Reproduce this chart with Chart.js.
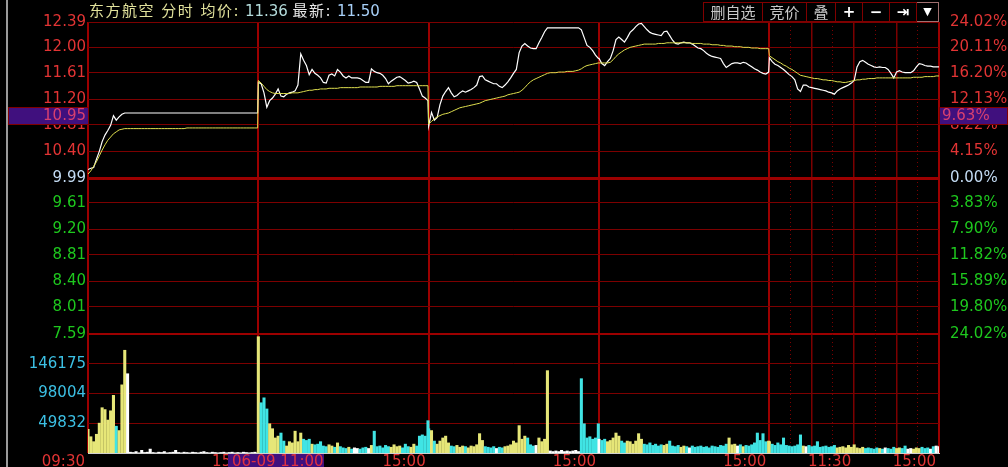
<!DOCTYPE html>
<html lang="zh">
<head>
<meta charset="UTF-8">
<title>东方航空 分时</title>
<script src="https://cdn.jsdelivr.net/npm/chart.js"></script>
<style>
  * { box-sizing: border-box; }
  body { margin: 0; background: #000; }
  #wrap { position: relative; width: 1008px; height: 467px; overflow: hidden; background: #000; font-family: 'DejaVu Sans', 'Noto Sans CJK SC', sans-serif; }
  canvas { position: absolute; left: 0; }
  #priceChart { top: 0; }
  #volChart { top: 334px; }
  .frame { position: absolute; left: 6px; top: 0; width: 2px; height: 467px; background: #9a9a9a; }
  #title { position: absolute; left: 89px; top: 1px; font-size: 15px; line-height: 20px; white-space: nowrap; }
  #title .cn { letter-spacing: 1.5px; }
  #tools { position: absolute; left: 703px; top: 2px; height: 20px; display: flex; }
  #tools div { height: 20px; border: 1px solid #800000; border-left: none; color: #c8c8c8; font-size: 15px; line-height: 18px; text-align: center; font-family: 'Noto Sans CJK SC', sans-serif; }
  #tools div:first-child { border-left: 1px solid #800000; }
  #tools .ic { color: #fff; font-weight: bold; font-family: 'DejaVu Sans', sans-serif; }
  .cross { position: absolute; background: #40107e; border: 1px solid #800000; color: #d84070; font-size: 15px; line-height: 15px; white-space: nowrap; }
</style>
</head>
<body>
<div id="wrap">
  <canvas id="priceChart" width="1008" height="350"></canvas>
  <canvas id="volChart" width="1008" height="133"></canvas>
  <div class="frame"></div>
  <div id="title"><span class="cn" style="color:#e2e29c">东方航空 分时 均价:</span> <span style="color:#b4dcdc">11.36</span> <span class="cn" style="color:#e8e8e8">最新:</span> <span style="color:#a8d0f8">11.50</span></div>
  <div id="tools">
    <div style="width:60px">删自选</div>
    <div style="width:44px">竞价</div>
    <div style="width:29px">叠</div>
    <div class="ic" style="width:27px">+</div>
    <div class="ic" style="width:27px">−</div>
    <div class="ic" style="width:27px">⇥</div>
    <div class="ic" style="width:22px;border-color:#a07070;font-size:11px">▼</div>
  </div>
  <div class="cross" style="left:8px;top:107px;width:81px;height:18px;text-align:right;padding-right:2px;">10.95</div>
  <div class="cross" style="left:939px;top:107px;width:69px;height:18px;padding-left:2px;">9.63%</div>
  <div class="cross" style="left:228px;top:454px;width:96px;height:14px;padding-left:4px;border:none;color:#e03040;">06-09 11:00</div>
</div>

<script>
const prevClose = 9.99;
const MIN_PER_DAY = 241;
const STEP = 4;

// price ticks (left) and matching percent labels (right)
const priceTicks = [12.39, 12.00, 11.61, 11.20, 10.81, 10.40, 9.99, 9.61, 9.20, 8.81, 8.40, 8.01, 7.59];
const pctLabels = ['24.02%', '20.11%', '16.20%', '12.13%', '8.22%', '4.15%', '0.00%', '3.83%', '7.90%', '11.82%', '15.89%', '19.80%', '24.02%'];
const volTicks = [49832, 98004, 146175];

// time axis: minute index across 5 sessions
const timeTicks = [0, 241, 482, 723, 964, 994, 1024, 1054, 1084, 1114, 1144, 1174, 1204];
const timeLabels = ['09:30', '15:00', '15:00', '15:00', '15:00', '', '', '', '11:30', '', '', '', '15:00'];

// price, sampled every 4 minutes (61 points per session)
const price1 = [10.12, 10.14, 10.15, 10.28, 10.40, 10.55, 10.65, 10.72, 10.80, 10.95,
  10.88, 10.93, 10.97, 10.99, 10.99, 10.99, 10.99, 10.99, 10.99, 10.99,
  10.99, 10.99, 10.99, 10.99, 10.99, 10.99, 10.99, 10.99, 10.99, 10.99,
  10.99, 10.99, 10.99, 10.99, 10.99, 10.99, 10.99, 10.99, 10.99, 10.99,
  10.99, 10.99, 10.99, 10.99, 10.99, 10.99, 10.99, 10.99, 10.99, 10.99,
  10.99, 10.99, 10.99, 10.99, 10.99, 10.99, 10.99, 10.99, 10.99, 10.99, 10.99];
const price2 = [11.46, 11.44, 11.30, 11.08, 11.18, 11.22, 11.28, 11.36, 11.25, 11.24,
  11.28, 11.30, 11.31, 11.33, 11.42, 11.90, 11.80, 11.72, 11.58, 11.66,
  11.60, 11.57, 11.53, 11.46, 11.45, 11.57, 11.59, 11.56, 11.66, 11.62,
  11.56, 11.53, 11.56, 11.53, 11.53, 11.53, 11.52, 11.49, 11.46, 11.46,
  11.67, 11.63, 11.61, 11.60, 11.57, 11.52, 11.44, 11.48, 11.51, 11.54,
  11.55, 11.52, 11.49, 11.45, 11.46, 11.48, 11.46, 11.36, 11.25, 11.22, 11.18];
const price3 = [10.79, 11.00, 10.88, 10.92, 11.12, 11.25, 11.32, 11.38, 11.30, 11.24,
  11.26, 11.30, 11.33, 11.31, 11.33, 11.35, 11.38, 11.42, 11.55, 11.56,
  11.50, 11.48, 11.46, 11.44, 11.44, 11.40, 11.38, 11.42, 11.47, 11.53,
  11.60, 11.66, 11.92, 12.02, 12.06, 12.02, 11.99, 11.98, 11.98, 12.07,
  12.15, 12.24, 12.30, 12.30, 12.30, 12.30, 12.30, 12.30, 12.30, 12.30,
  12.30, 12.30, 12.30, 12.30, 12.27, 12.15, 12.03, 12.00, 11.95, 11.88, 11.83];
const price4 = [11.83, 11.75, 11.72, 11.78, 11.83, 11.95, 12.12, 12.16, 12.12, 12.08,
  12.15, 12.23, 12.27, 12.32, 12.36, 12.37, 12.32, 12.27, 12.23, 12.21,
  12.20, 12.19, 12.18, 12.24, 12.25, 12.18, 12.11, 12.06, 12.05, 12.07,
  12.08, 12.07, 12.07, 12.05, 12.02, 11.99, 11.98, 11.95, 11.91, 11.88,
  11.86, 11.85, 11.84, 11.83, 11.75, 11.69, 11.72, 11.75, 11.76, 11.76,
  11.75, 11.77, 11.76, 11.73, 11.70, 11.67, 11.65, 11.62, 11.60, 11.59, 11.62];
const price5 = [11.84, 11.78, 11.74, 11.72, 11.69, 11.66, 11.62, 11.58, 11.55, 11.50,
  11.36, 11.32, 11.42, 11.42, 11.39, 11.38, 11.37, 11.36, 11.35, 11.34,
  11.33, 11.31, 11.30, 11.28, 11.33, 11.36, 11.38, 11.40, 11.42, 11.45,
  11.49, 11.70, 11.78, 11.80, 11.77, 11.74, 11.72, 11.70, 11.69, 11.70,
  11.69, 11.69, 11.66, 11.60, 11.53, 11.62, 11.64, 11.62, 11.61, 11.61,
  11.61, 11.64, 11.70, 11.75, 11.74, 11.72, 11.71, 11.71, 11.70, 11.70, 11.70];

// average price line
const avg1 = [10.05, 10.10, 10.17, 10.24, 10.33, 10.42, 10.50, 10.57, 10.62, 10.67,
  10.70, 10.73, 10.74, 10.75, 10.75, 10.75, 10.75, 10.75, 10.75, 10.75,
  10.75, 10.75, 10.75, 10.75, 10.75, 10.75, 10.75, 10.75, 10.75, 10.75,
  10.75, 10.75, 10.75, 10.75, 10.75, 10.76, 10.76, 10.76, 10.76, 10.76,
  10.76, 10.76, 10.76, 10.76, 10.76, 10.76, 10.76, 10.76, 10.76, 10.76,
  10.76, 10.76, 10.76, 10.76, 10.76, 10.76, 10.76, 10.76, 10.76, 10.76, 10.76];
const avg2 = [11.49, 11.45, 11.40, 11.35, 11.32, 11.30, 11.29, 11.29, 11.29, 11.29,
  11.29, 11.29, 11.30, 11.30, 11.30, 11.31, 11.32, 11.33, 11.34, 11.34,
  11.35, 11.35, 11.36, 11.36, 11.36, 11.37, 11.37, 11.37, 11.37, 11.38,
  11.38, 11.38, 11.38, 11.38, 11.38, 11.38, 11.39, 11.39, 11.39, 11.39,
  11.39, 11.39, 11.39, 11.40, 11.40, 11.40, 11.40, 11.40, 11.40, 11.41,
  11.41, 11.41, 11.41, 11.41, 11.41, 11.41, 11.41, 11.41, 11.41, 11.41, 11.41];
const avg3 = [10.82, 10.86, 10.90, 10.93, 10.95, 10.97, 10.98, 10.99, 11.01, 11.03,
  11.05, 11.07, 11.08, 11.09, 11.10, 11.11, 11.12, 11.13, 11.14, 11.16,
  11.18, 11.19, 11.20, 11.21, 11.22, 11.23, 11.24, 11.25, 11.27, 11.28,
  11.29, 11.30, 11.31, 11.34, 11.38, 11.43, 11.47, 11.50, 11.52, 11.54,
  11.56, 11.58, 11.60, 11.61, 11.61, 11.61, 11.62, 11.62, 11.62, 11.63,
  11.63, 11.63, 11.64, 11.65, 11.67, 11.70, 11.72, 11.73, 11.74, 11.75, 11.76];
const avg4 = [11.76, 11.76, 11.76, 11.76, 11.77, 11.81, 11.86, 11.90, 11.93, 11.96,
  11.98, 12.00, 12.01, 12.02, 12.03, 12.04, 12.05, 12.05, 12.05, 12.05,
  12.05, 12.06, 12.06, 12.06, 12.07, 12.07, 12.07, 12.07, 12.07, 12.07,
  12.07, 12.07, 12.07, 12.06, 12.06, 12.06, 12.06, 12.05, 12.05, 12.05,
  12.04, 12.04, 12.04, 12.03, 12.03, 12.02, 12.02, 12.02, 12.01, 12.01,
  12.01, 12.00, 12.00, 12.00, 11.99, 11.99, 11.99, 11.98, 11.98, 11.98, 11.98];
const avg5 = [11.87, 11.84, 11.81, 11.78, 11.76, 11.73, 11.71, 11.68, 11.66, 11.63,
  11.60, 11.57, 11.56, 11.55, 11.54, 11.53, 11.52, 11.52, 11.51, 11.50,
  11.50, 11.49, 11.49, 11.48, 11.47, 11.47, 11.46, 11.46, 11.47, 11.48,
  11.49, 11.50, 11.50, 11.51, 11.51, 11.52, 11.52, 11.52, 11.53, 11.53,
  11.53, 11.53, 11.53, 11.53, 11.53, 11.53, 11.53, 11.53, 11.53, 11.53,
  11.53, 11.54, 11.54, 11.54, 11.54, 11.55, 11.55, 11.55, 11.55, 11.56, 11.56];

// volume (shares), same 4-minute sampling
const vol1 = [40000, 28000, 20000, 32000, 50000, 75000, 72000, 55000, 70000, 95000,
  45000, 38000, 112000, 168000, 130000, 3000, 2500, 4000, 2000, 6000,
  2500, 3000, 8000, 2500, 2000, 3000, 2500, 4000, 2000, 2500,
  3000, 6000, 2500, 2000, 3000, 2500, 2000, 3000, 2500, 2000,
  3000, 4000, 2500, 2000, 3000, 2500, 2000, 2500, 3000, 2000,
  2500, 3000, 2000, 2500, 2000, 3000, 2500, 2000, 2500, 3000, 2000];
const vol2 = [190000, 83000, 91000, 73000, 49000, 41000, 26000, 29000, 34000, 21000,
  13000, 20000, 18000, 37000, 20000, 34000, 24000, 22000, 24000, 16000,
  15000, 16000, 20000, 13000, 12000, 15000, 13000, 11000, 18000, 12000,
  10000, 9000, 11000, 8000, 10000, 9000, 8000, 10000, 11000, 9000,
  14000, 37000, 12000, 13000, 10000, 14000, 12000, 11000, 15000, 12000,
  13000, 10000, 16000, 12000, 11000, 16000, 13000, 29000, 31000, 29000, 54000];
const vol3 = [41000, 38000, 21000, 16000, 21000, 26000, 29000, 18000, 13000, 12000,
  14000, 11000, 13000, 12000, 10000, 13000, 12000, 15000, 33000, 22000,
  12000, 11000, 10000, 12000, 9000, 11000, 10000, 12000, 13000, 15000,
  21000, 18000, 46000, 24000, 29000, 26000, 15000, 13000, 14000, 26000,
  20000, 24000, 135000, 5000, 4000, 5000, 4000, 6000, 4000, 5000,
  4000, 5000, 6000, 4000, 122000, 49000, 26000, 28000, 24000, 26000, 49000];
const vol4 = [24000, 22000, 24000, 20000, 22000, 26000, 34000, 29000, 21000, 18000,
  21000, 20000, 16000, 21000, 33000, 24000, 16000, 15000, 18000, 14000,
  16000, 13000, 15000, 14000, 16000, 21000, 13000, 12000, 14000, 11000,
  13000, 12000, 10000, 13000, 11000, 12000, 13000, 11000, 12000, 10000,
  13000, 12000, 11000, 14000, 13000, 16000, 26000, 15000, 16000, 13000,
  15000, 12000, 14000, 13000, 15000, 18000, 34000, 22000, 33000, 20000, 21000];
const vol5 = [20000, 16000, 14000, 18000, 15000, 26000, 14000, 13000, 12000, 13000,
  15000, 31000, 13000, 12000, 14000, 12000, 13000, 20000, 11000, 12000,
  13000, 11000, 12000, 14000, 10000, 11000, 12000, 10000, 14000, 11000,
  15000, 10000, 9000, 11000, 9000, 10000, 9000, 8000, 10000, 9000,
  8000, 10000, 9000, 8000, 11000, 9000, 10000, 9000, 13000, 8000,
  9000, 8000, 10000, 9000, 11000, 9000, 10000, 8000, 12000, 13000, 12000];

const prices = [price1, price2, price3, price4, price5];
const avgs = [avg1, avg2, avg3, avg4, avg5];
const vols = [vol1, vol2, vol3, vol4, vol5];

const RED = '#e23434', GREEN = '#1ec81e', FLAT = '#c4dcf4', CYAN_TXT = '#3cc0e4';
const GRID = '#7c0000', GRID_HI = '#9c0000';
const UP = '#e6e678', DOWN = '#40e4e4', EVEN = '#ffffff';

function toPoints(series) {
  const out = [];
  series.forEach((day, d) => day.forEach((v, i) => out.push({ x: d * MIN_PER_DAY + i * STEP, y: v })));
  return out;
}
const pricePts = toPoints(prices);
const avgPts = toPoints(avgs);
const volPts = toPoints(vols);
const barColors = pricePts.map((p, k) => {
  const before = k === 0 ? prevClose : pricePts[k - 1].y;
  return p.y > before ? UP : p.y < before ? DOWN : EVEN;
});

Chart.defaults.font.family = "'DejaVu Sans', sans-serif";
Chart.defaults.font.size = 15;
Chart.defaults.animation = false;

const isDay = v => v % MIN_PER_DAY === 0 || v === 1204;
const isHour = v => v > 964 && (v - 964) % 60 === 0;

// vertical axes: fixed width, no automatic label overflow padding
const fixAxis = w => s => { s.width = w; s.paddingTop = 0; s.paddingBottom = 0; };

const timeAxis = (showLabels) => ({
  type: 'linear',
  min: 0,
  max: 1204,
  offset: false,
  afterBuildTicks: s => { s.ticks = timeTicks.map(v => ({ value: v })); },
  afterFit: s => { s.height = showLabels ? 14 : 0; s.paddingLeft = 0; s.paddingRight = 0; },
  ticks: {
    display: showLabels,
    autoSkip: false,
    maxRotation: 0,
    align: 'end',
    labelOffset: -3,
    padding: 0,
    color: RED,
    callback: (v, i) => timeLabels[i]
  },
  grid: {
    offset: false,
    drawTicks: false,
    color: c => isDay(c.tick ? c.tick.value : 0) ? GRID_HI : GRID,
    lineWidth: c => {
      const v = c.tick ? c.tick.value : 0;
      return isDay(v) ? 2 : isHour(v) ? 1.5 : 1;
    }
  },
  border: {
    display: showLabels,
    color: '#d0d0d0',
    width: 1,
    dash: c => {
      const v = c.tick ? c.tick.value : 0;
      return (c.tick && !isDay(v) && !isHour(v)) ? [1, 3] : [];
    }
  }
});

const priceColor = v => v > prevClose + 1e-6 ? RED : v < prevClose - 1e-6 ? GREEN : FLAT;

new Chart(document.getElementById('priceChart'), {
  type: 'line',
  data: {
    datasets: [
      { data: avgPts, borderColor: '#dede4e', borderWidth: 1, pointRadius: 0, yAxisID: 'yL' },
      { data: pricePts, borderColor: '#ffffff', borderWidth: 1.2, pointRadius: 0, yAxisID: 'yL' }
    ]
  },
  options: {
    responsive: false,
    layout: { padding: { top: 22, bottom: 16, left: 0, right: 0 } },
    plugins: { legend: { display: false }, tooltip: { enabled: false } },
    scales: {
      x: timeAxis(false),
      yL: {
        position: 'left',
        min: 7.59,
        max: 12.39,
        afterBuildTicks: s => { s.ticks = priceTicks.map(v => ({ value: v })); },
        afterFit: fixAxis(88),
        ticks: { padding: 2, color: c => priceColor(c.tick.value), callback: v => v.toFixed(2) },
        grid: {
          drawTicks: false,
          color: c => (c.tick && [9.99, 7.59].includes(c.tick.value)) ? GRID_HI : GRID,
          lineWidth: c => {
            const v = c.tick ? c.tick.value : 0;
            return v === 9.99 ? 3 : v === 7.59 ? 2 : 1;
          }
        },
        border: { display: false }
      },
      yR: {
        position: 'right',
        min: 7.59,
        max: 12.39,
        afterBuildTicks: s => { s.ticks = priceTicks.map(v => ({ value: v })); },
        afterFit: fixAxis(69),
        ticks: { padding: 3, color: c => priceColor(c.tick.value), callback: (v, i) => pctLabels[i] },
        grid: { display: false },
        border: { display: false }
      }
    }
  }
});

new Chart(document.getElementById('volChart'), {
  type: 'bar',
  data: {
    datasets: [{
      data: volPts,
      backgroundColor: barColors,
      barThickness: 2.4,
      yAxisID: 'yV'
    }]
  },
  options: {
    responsive: false,
    layout: { padding: { top: 0, bottom: 0, left: 0, right: 69 } },
    plugins: { legend: { display: false }, tooltip: { enabled: false } },
    scales: {
      x: timeAxis(true),
      yV: {
        position: 'left',
        min: 1661,
        max: 194346,
        afterBuildTicks: s => { s.ticks = volTicks.map(v => ({ value: v })); },
        afterFit: fixAxis(88),
        ticks: { padding: 2, color: CYAN_TXT, callback: v => String(v) },
        grid: { drawTicks: false, color: GRID, lineWidth: 1 },
        border: { display: false }
      }
    }
  }
});
</script>
</body>
</html>
